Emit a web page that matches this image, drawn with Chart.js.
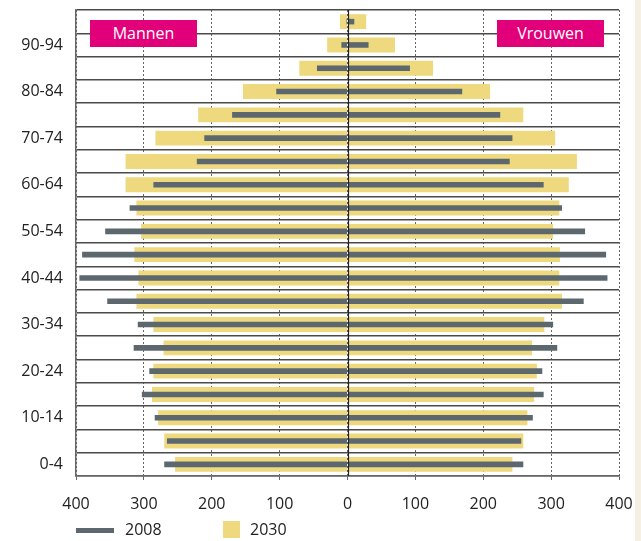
<!DOCTYPE html>
<html>
<head>
<meta charset="utf-8">
<script src="https://cdn.jsdelivr.net/npm/chart.js@4"></script>
<style>
  html, body { margin: 0; padding: 0; background: #fff; }
  body { width: 641px; height: 541px; position: relative; overflow: hidden; font-family: "Open Sans", sans-serif; }
  #wrap { position: absolute; left: 0; top: 0; width: 641px; height: 541px; }
  .strip { position: absolute; left: 635px; top: 0; width: 6px; height: 541px; background: #f5f0e3; }
  .tag { position: absolute; top: 20px; height: 27px; width: 107px; background: #e2007a; color: #fff;
         font-size: 16px; line-height: 27px; text-align: center; }
  .legend { position: absolute; top: 521px; font-size: 16px; color: #222; line-height: 17px; }
  .swatch { position: absolute; }
</style>
</head>
<body>
<div id="wrap"><canvas id="pyramid" width="641" height="541"></canvas></div>
<div class="strip"></div>
<div class="tag" style="left:90px;">Mannen</div>
<div class="tag" style="left:497px;">Vrouwen</div>
<div class="swatch" style="left:76px; top:528px; width:38px; height:5px; background:#5d686e;"></div>
<div class="legend" style="left:125px;">2008</div>
<div class="swatch" style="left:223px; top:521px; width:17px; height:17px; background:#eed97f;"></div>
<div class="legend" style="left:250px;">2030</div>
<script>
// age groups, bottom to top
const ageGroups = ['0-4', '5-9', '10-14', '15-19', '20-24', '25-29', '30-34', '35-39', '40-44', '45-49',
                   '50-54', '55-59', '60-64', '65-69', '70-74', '75-79', '80-84', '85-89', '90-94', '95+'];

// x1000 persons
const men2008   = [270, 266, 284, 303, 292, 315, 309, 354, 395, 391, 357, 321, 286, 222, 211, 170, 105, 45, 9, 1.5];
const women2008 = [259, 256, 273, 289, 287, 309, 303, 348, 383, 381, 350, 316, 289, 239, 243, 225, 169, 92, 31, 10];
const men2030   = [254, 270, 279, 288, 286, 271, 286, 311, 308, 314, 304, 311, 327, 327, 283, 220, 154, 71, 30, 11];
const women2030 = [243, 259, 265, 275, 279, 272, 290, 316, 312, 313, 303, 312, 326, 338, 306, 259, 210, 126, 70, 27.5];

const xTicks = [-400, -300, -200, -100, 0, 100, 200, 300, 400];

const grey = '#5d686e';
const yellow = '#eed97f';

// solid line at zero, on top of the bars
const zeroLine = {
    id: 'zeroLine',
    afterDatasetsDraw(chart) {
        const { ctx, chartArea, scales } = chart;
        const x = Math.round(scales.x.getPixelForValue(0)) + 0.5;
        ctx.save();
        ctx.setLineDash([]);
        ctx.strokeStyle = '#222';
        ctx.lineWidth = 1.2;
        ctx.beginPath();
        ctx.moveTo(x, chartArea.top);
        ctx.lineTo(x, chartArea.bottom);
        ctx.stroke();
        ctx.restore();
    }
};

const greyBar = { backgroundColor: grey, barPercentage: 0.24, categoryPercentage: 1, grouped: false, order: 0 };
const yellowBar = { backgroundColor: yellow, barPercentage: 0.64, categoryPercentage: 1, grouped: false, order: 1 };

new Chart(document.getElementById('pyramid'), {
    type: 'bar',
    data: {
        labels: ageGroups,
        datasets: [
            { label: '2008 mannen', data: men2008.map(v => -v), ...greyBar },
            { label: '2008 vrouwen', data: women2008, ...greyBar },
            { label: '2030 mannen', data: men2030.map(v => -v), ...yellowBar },
            { label: '2030 vrouwen', data: women2030, ...yellowBar },
        ],
    },
    options: {
        indexAxis: 'y',
        responsive: false,
        animation: false,
        devicePixelRatio: 1,
        layout: { padding: { top: 10, right: 22, left: 0, bottom: 0 } },
        plugins: {
            legend: { display: false },
            tooltip: { enabled: false },
        },
        scales: {
            x: {
                min: -400,
                max: 400,
                afterBuildTicks(scale) {
                    scale.ticks = xTicks.map(v => ({ value: v }));
                },
                afterFit(scale) {
                    scale.height = 65;
                    scale.paddingLeft = 0;
                    scale.paddingRight = 0;
                },
                ticks: {
                    callback: v => Math.abs(v),
                    font: { family: 'Open Sans', size: 16 },
                    color: '#222',
                    padding: 15,
                    maxRotation: 0,
                },
                grid: { color: '#666', lineWidth: 1, tickLength: 4 },
                border: { color: '#666', width: 1.5, dash: [2, 2] },
            },
            y: {
                reverse: true,
                afterFit(scale) {
                    scale.width = 76;
                    scale.paddingTop = 0;
                    scale.paddingBottom = 0;
                },
                ticks: {
                    callback: function (v, i) { return i % 2 === 0 ? this.getLabelForValue(v) : ''; },
                    font: { family: 'Open Sans', size: 16 },
                    color: '#222',
                    padding: 13,
                    autoSkip: false,
                },
                grid: { color: '#4a4a4a', lineWidth: 1.5, drawTicks: false, offset: true },
                border: { color: '#666', width: 1.5 },
            },
        },
    },
    plugins: [zeroLine],
});
</script>
</body>
</html>
